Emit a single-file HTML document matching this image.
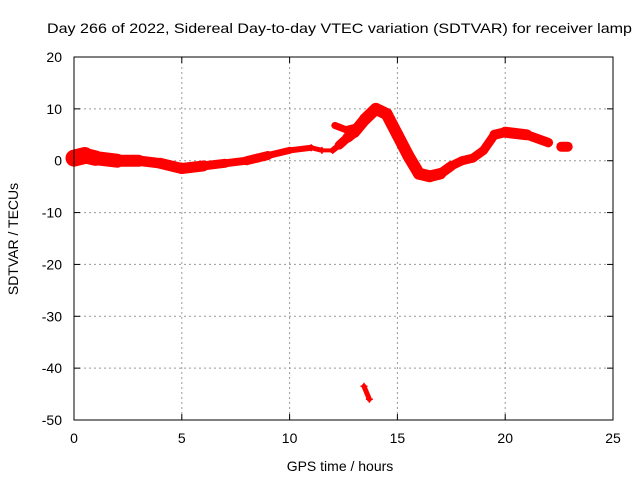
<!DOCTYPE html>
<html><head><meta charset="utf-8"><style>
body{margin:0;background:#fff}
svg{display:block;font-family:"Liberation Sans",sans-serif}
</style></head><body>
<svg id="c" width="640" height="480">
<text x="47" y="33" font-size="14" textLength="585" lengthAdjust="spacingAndGlyphs">Day 266 of 2022, Sidereal Day-to-day VTEC variation (SDTVAR) for receiver lamp</text>
<text x="340" y="471" font-size="14" text-anchor="middle">GPS time / hours</text>
<text transform="translate(18,239) rotate(-90)" font-size="14" text-anchor="middle">SDTVAR / TECUs</text>
<g id="grid"></g><g id="marks"></g>
<rect x="74" y="57" width="539" height="363" fill="none" stroke="#000"/>
</svg>
<script>
const xTicks=[0,5,10,15,20,25];
const yTicks=[20,10,0,-10,-20,-30,-40,-50];
const hours=[0,0.5,1,2,3,4,5,6,7,8,8.5,9,10,11,11.5,12,12.3,12.7,13,13.5,14,14.5,15,15.5,16,16.5,17,17.5,18,18.5,19,19.5,20,21,22,null,22.6,22.9,null,13.45,13.7];
const values=[0.5,1,0.5,0,0,-0.5,-1.5,-1,-0.5,0,0.5,1,2,2.5,2,2,3,4.5,5.5,8,10,9,5,1,-2.5,-3,-2.5,-1,0,0.5,2,5,5.5,5,3.5,null,2.7,2.7,null,-43.5,-46];
const spread=[18,16,15,13,11,10,12,10,8,8,10,8,6,6,4,4,8,10,11,12,12,12,12,12,12,12,11,9,9,9,9,9,11,11,8,null,10,10,null,5,5];
const branchH=[12.1,12.6,13.1];
const branchV=[6.8,6,6.5];
const X=h=>74+h*539/25, Y=v=>420-(v+50)*363/70;
const NS='http://www.w3.org/2000/svg';
const g=document.getElementById('grid'), m=document.getElementById('marks');
function el(t,a,p){const e=document.createElementNS(NS,t);for(const k in a)e.setAttribute(k,a[k]);p.appendChild(e);return e;}
xTicks.forEach(t=>{const x=X(t);
 if(t>0&&t<25){const l=el('line',{x1:x,x2:x,y1:57,y2:420,stroke:'#999','stroke-dasharray':'2,3'},g);
 
 }
 el('line',{x1:x,x2:x,y1:420,y2:414,stroke:'#000'},g);el('line',{x1:x,x2:x,y1:57,y2:63,stroke:'#000'},g);
 const tx=el('text',{x:x,y:443,'font-size':14,'text-anchor':'middle'},g);tx.textContent=t;
 
 });
yTicks.forEach(t=>{const y=Y(t);
 if(t>-50&&t<20){const l=el('line',{x1:74,x2:613,y1:y,y2:y,stroke:'#999','stroke-dasharray':'2,3'},g);
 
 }
 el('line',{x1:74,x2:80,y1:y,y2:y,stroke:'#000'},g);el('line',{x1:613,x2:607,y1:y,y2:y,stroke:'#000'},g);
 const tx=el('text',{x:62,y:y+5,'font-size':14,'text-anchor':'end'},g);tx.textContent=t;
 
 });
function plus(x,y){const p=el('path',{d:`M${x-3.5},${y}h7M${x},${y-3.5}v7`,stroke:'#f00','stroke-width':1.5},m);
 
 }
for(let i=0;i<hours.length;i++){
 if(hours[i]===null)continue;
 plus(X(hours[i]),Y(values[i]));
 if(i+1<hours.length&&hours[i+1]!==null){
  const w=(spread[i]+spread[i+1])/2;
  const s=el('line',{x1:X(hours[i]),y1:Y(values[i]),x2:X(hours[i+1]),y2:Y(values[i+1]),stroke:'#f00','stroke-width':w,'stroke-linecap':'round'},m);
  
  
 }
}
for(let i=0;i<branchH.length;i++){
 plus(X(branchH[i]),Y(branchV[i]));
 if(i+1<branchH.length){const s=el('line',{x1:X(branchH[i]),y1:Y(branchV[i]),x2:X(branchH[i+1]),y2:Y(branchV[i+1]),stroke:'#f00','stroke-width':7,'stroke-linecap':'round'},m);
 
 }
}
</script>
</body></html>
